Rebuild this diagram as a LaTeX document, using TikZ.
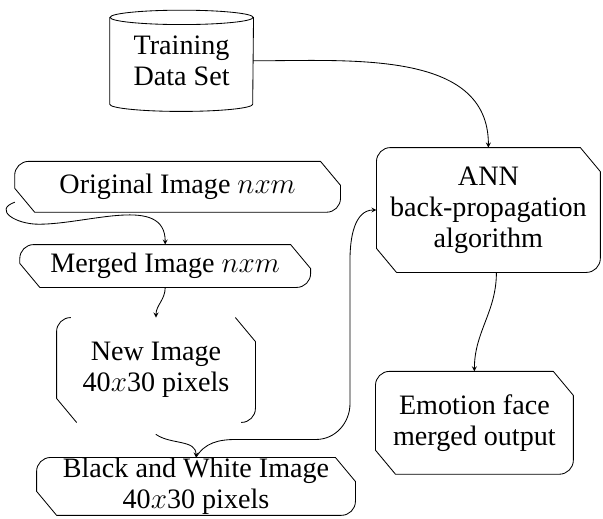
\documentclass[tikz,border=0pt]{standalone}
\usepackage{fontspec}
\setmainfont{Liberation Serif}
\newfontfamily\labelfont{Liberation Serif}
\usetikzlibrary{calc}

% corner sizes of the flow boxes
\newcommand{\boxr}{0.35cm}
\newcommand{\boxcx}{0.5cm}
\newcommand{\boxcy}{0.6cm}

% outline: rounded NW and SE corners, cut NE and SW corners
\newcommand{\flowbox}[1]{%
  \draw ([yshift=-\boxr]#1.north west) to[out=90,in=180] ([xshift=\boxr]#1.north west)
    -- ([xshift=-\boxcx]#1.north east) -- ([yshift=-\boxcy]#1.north east)
    -- ([yshift=\boxr]#1.south east) to[out=-90,in=0] ([xshift=-\boxr]#1.south east)
    -- ([xshift=\boxcx]#1.south west) -- ([yshift=\boxcy]#1.south west) -- cycle;}
% same outline, only the two sides
\newcommand{\sidebox}[1]{%
  \draw ([xshift=\boxr]#1.north west) to[out=180,in=90] ([yshift=-\boxr]#1.north west)
    -- ([yshift=\boxcy]#1.south west) -- ([xshift=\boxcx]#1.south west);
  \draw ([xshift=-\boxcx]#1.north east) -- ([yshift=-\boxcy]#1.north east)
    -- ([yshift=\boxr]#1.south east) to[out=-90,in=0] ([xshift=-\boxr]#1.south east);}

\begin{document}
\begin{tikzpicture}[line join=round, line cap=round, >=stealth, line width=0.6pt,
  every node/.style={font=\labelfont\fontsize{20}{22}\selectfont, align=center, inner sep=0pt},
  stage/.style={rectangle}]
\useasboundingbox (0,0) rectangle (15.075,12.95);
% nodes
\node[stage, minimum width=3.575cm, minimum height=2.15cm] (train) at (4.54,11.43) {Training\\Data Set};
\node[stage, minimum width=8.125cm, minimum height=1.25cm] (orig) at (4.44,8.28) {Original Image $nxm$};
\node[stage, minimum width=7.25cm, minimum height=1.05cm] (merged) at (4.13,6.30) {Merged Image $nxm$};
\node[stage, minimum width=4.95cm, minimum height=2.6cm] (newimg) at (3.90,3.70) {New Image\\40$x$30 pixels};
\node[stage, minimum width=7.95cm, minimum height=1.425cm] (bw) at (4.90,0.79) {Black and White Image\\40$x$30 pixels};
\node[stage, minimum width=5.575cm, minimum height=3.1cm] (ann) at (12.21,7.70) {ANN\\back-propagation\\algorithm};
\node[stage, minimum width=4.925cm, minimum height=2.55cm] (emotion) at (11.86,2.38) {Emotion face\\merged output};
% outlines
\draw (train.north) ellipse[x radius=1.7875cm, y radius=0.18cm];
\draw (train.north west) -- (train.south west) arc[start angle=180, end angle=360, x radius=1.7875cm, y radius=0.18cm] -- (train.north east);
\flowbox{orig}
\flowbox{merged}
\sidebox{newimg}
\flowbox{bw}
\flowbox{ann}
\flowbox{emotion}
% connectors
\draw[->] (train.east) to[out=0,in=90] (ann.north);
\draw[->] ([yshift=0.25cm]orig.south west) to[out=200,in=180,looseness=1.8] ([xshift=0.6cm,yshift=-0.3cm]orig.south west) to[out=0,in=90] (merged.north);
\draw[->] (merged.south) to[out=-90,in=90] (newimg.north);
\draw[->] ([yshift=-0.3cm]newimg.south) to[out=-35,in=90] (bw.north);
\draw[->] (bw.north) to[out=60,in=180] ++(1.0,0.45) -- ++(2.0,0) to[out=0,in=-90] ++(0.85,0.9) -- ++(0,3.6) to[out=90,in=180] (ann.west);
\draw[->] ([xshift=0.2cm]ann.south) to[out=-90,in=90] (emotion.north);
\end{tikzpicture}
\end{document}
